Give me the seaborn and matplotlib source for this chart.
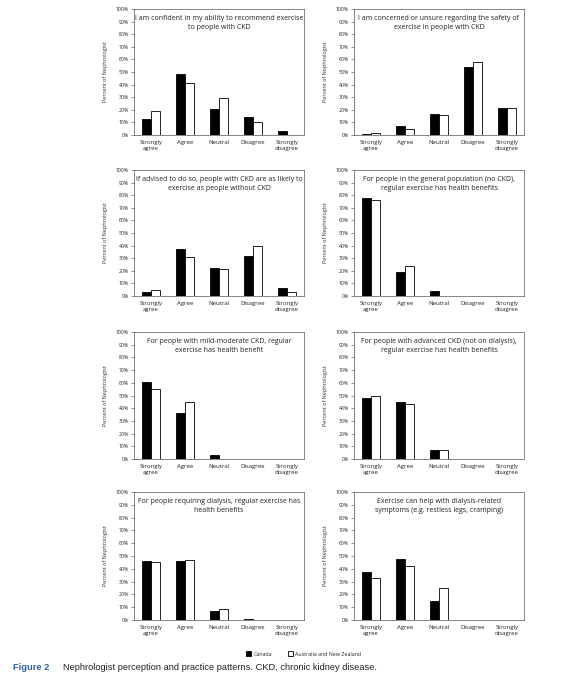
import matplotlib
matplotlib.use("Agg")
import matplotlib.pyplot as plt
import seaborn as sns
import pandas as pd
from matplotlib.patches import Patch
from matplotlib.ticker import PercentFormatter

categories = ["Strongly\nagree", "Agree", "Neutral", "Disagree", "Strongly\ndisagree"]
countries = ["Canada", "Australia and New Zealand"]

titles = [
    "I am confident in my ability to recommend exercise\nto people with CKD",
    "I am concerned or unsure regarding the safety of\nexercise in people with CKD",
    "If advised to do so, people with CKD are as likely to\nexercise as people without CKD",
    "For people in the general population (no CKD),\nregular exercise has health benefits",
    "For people with mild-moderate CKD, regular\nexercise has health benefit",
    "For people with advanced CKD (not on dialysis),\nregular exercise has health benefits",
    "For people requiring dialysis, regular exercise has\nhealth benefits",
    "Exercise can help with dialysis-related\nsymptoms (e.g. restless legs, cramping)",
]

canada = [
    [12.5, 48.5, 20.5, 14.5, 3.5],
    [1.0, 7.0, 17.0, 54.0, 21.5],
    [3.0, 37.0, 22.5, 31.5, 6.0],
    [77.5, 19.0, 4.0, 0.0, 0.0],
    [61.0, 36.0, 3.0, 0.0, 0.0],
    [48.0, 45.0, 7.0, 0.0, 0.0],
    [46.0, 46.0, 7.0, 1.0, 0.0],
    [37.5, 48.0, 15.0, 0.0, 0.0],
]
anz = [
    [19.0, 41.0, 29.0, 10.5, 0.0],
    [1.5, 5.0, 15.5, 58.0, 21.5],
    [5.0, 31.0, 21.5, 39.5, 3.5],
    [76.5, 24.0, 0.0, 0.0, 0.0],
    [55.5, 45.0, 0.0, 0.0, 0.0],
    [49.5, 43.5, 7.0, 0.0, 0.0],
    [45.0, 47.0, 8.5, 0.0, 0.0],
    [33.0, 42.5, 25.0, 0.0, 0.0],
]

sns.set_theme(style="white")
plt.rcParams["font.family"] = ["Open Sans", "DejaVu Sans"]

W, H = 587, 680
fig = plt.figure(figsize=(W / 100, H / 100), dpi=100)
fig.patch.set_facecolor("white")

col_left = [134, 354]
row_top = [9, 170, 332, 492]
row_bot = [135, 296, 459, 620]
ax_w = 170

for i in range(8):
    r, c = divmod(i, 2)
    left = col_left[c] / W
    bottom = (H - row_bot[r]) / H
    height = (row_bot[r] - row_top[r]) / H
    ax = fig.add_axes([left, bottom, ax_w / W, height])
    rows = []
    for j, cat in enumerate(categories):
        rows.append({"category": cat, "country": countries[0], "value": canada[i][j]})
        rows.append({"category": cat, "country": countries[1], "value": anz[i][j]})
    df = pd.DataFrame(rows)
    sns.barplot(data=df, x="category", y="value", hue="country", order=categories,
                hue_order=countries, palette=["black", "white"], edgecolor="black",
                linewidth=0.6, width=0.52, ax=ax, legend=False, errorbar=None)
    ax.set_ylim(0, 100)
    ax.set_xlim(-0.5, 4.5)
    ax.set_yticks(range(0, 101, 10))
    ax.yaxis.set_major_formatter(PercentFormatter(decimals=0))
    ax.tick_params(axis="y", labelsize=3.7, length=2, width=0.4, pad=1.5, left=True,
                   color="#444444", labelcolor="#222222")
    ax.tick_params(axis="x", labelsize=4.3, length=0, pad=3.5, labelcolor="#222222")
    ax.set_xlabel("")
    ax.set_ylabel("Percent of Nephrologist", fontsize=4.0, labelpad=6, color="#333333")
    for sp in ax.spines.values():
        sp.set_visible(True)
        sp.set_color("#555555")
        sp.set_linewidth(0.5)
    ax.text(0.5, 0.89, titles[i], transform=ax.transAxes, ha="center", va="center",
            fontsize=5.0, linespacing=1.35, color="#222222")

handles = [Patch(facecolor="black", edgecolor="black", linewidth=0.6, label=countries[0]),
           Patch(facecolor="white", edgecolor="black", linewidth=0.6, label=countries[1])]
fig.legend(handles=handles, loc="center", bbox_to_anchor=(304 / W, (H - 654) / H), ncol=2,
           frameon=False, fontsize=3.8, handlelength=0.9, handleheight=0.9, columnspacing=3.0,
           handletextpad=0.5)

fig.text(13 / W, (H - 668) / H, "Figure 2", fontsize=6.7, fontweight="bold", color="#2f5fa8",
         family=["Liberation Sans", "DejaVu Sans"], va="center", ha="left")
fig.text(63 / W, (H - 668) / H, "Nephrologist perception and practice patterns. CKD, chronic kidney disease.",
         fontsize=6.7, color="#222222", family=["Liberation Sans", "DejaVu Sans"], va="center", ha="left")

fig.savefig("out.png", dpi=100, facecolor="white")
